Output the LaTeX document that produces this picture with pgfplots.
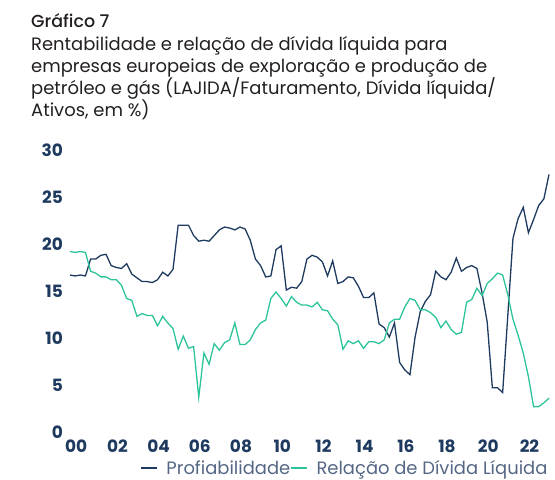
\documentclass[border=0pt]{standalone}
\usepackage{fontspec}
\setmainfont{Poppins}
\newfontfamily\titlefont{Poppins Medium}
\usepackage{pgfplots}
\pgfplotsset{compat=1.18}
\definecolor{navy}{HTML}{1E3A5F}
\definecolor{teal}{HTML}{2EC49B}
\definecolor{titlecol}{HTML}{231F20}
\definecolor{legcol}{HTML}{556685}
\pgfplotstableread{
x prof rel
2000.00 16.7 19.2
2000.25 16.6 19.1
2000.50 16.7 19.2
2000.75 16.6 19.1
2001.00 18.4 17.1
2001.25 18.4 16.9
2001.50 18.8 16.5
2001.75 18.9 16.5
2002.00 17.7 16.2
2002.25 17.5 16.2
2002.50 17.4 15.6
2002.75 17.9 14.2
2003.00 16.8 14.0
2003.25 16.4 12.3
2003.50 16.0 12.6
2003.75 16.0 12.4
2004.00 15.9 12.4
2004.25 16.2 11.3
2004.50 17.0 12.3
2004.75 16.6 11.6
2005.00 17.3 11.0
2005.25 22.0 8.8
2005.50 22.0 10.2
2005.75 22.0 8.9
2006.00 20.9 9.1
2006.25 20.3 3.7
2006.50 20.4 8.4
2006.75 20.3 7.2
2007.00 20.9 9.4
2007.25 21.5 8.7
2007.50 21.8 9.5
2007.75 21.7 9.8
2008.00 21.5 11.6
2008.25 21.8 9.3
2008.50 21.6 9.3
2008.75 20.4 9.8
2009.00 18.4 10.9
2009.25 17.7 11.6
2009.50 16.5 11.9
2009.75 16.6 14.2
2010.00 19.4 14.9
2010.25 19.8 14.2
2010.50 15.1 13.4
2010.75 15.4 14.4
2011.00 15.3 13.8
2011.25 16.0 13.5
2011.50 18.4 13.5
2011.75 18.8 13.3
2012.00 18.6 13.8
2012.25 18.1 13.0
2012.50 16.6 12.9
2012.75 18.2 12.0
2013.00 15.8 11.4
2013.25 16.0 8.8
2013.50 16.5 9.7
2013.75 16.4 9.4
2014.00 15.5 9.7
2014.25 14.3 8.9
2014.50 14.3 9.6
2014.75 14.8 9.6
2015.00 11.5 9.4
2015.25 11.1 9.8
2015.50 10.1 11.6
2015.75 11.6 12.0
2016.00 7.4 12.0
2016.25 6.6 13.3
2016.50 6.1 14.2
2016.75 10.1 14.0
2017.00 12.8 13.0
2017.25 13.9 13.0
2017.50 14.6 12.7
2017.75 17.1 12.2
2018.00 16.5 11.1
2018.25 16.2 11.8
2018.50 17.0 10.9
2018.75 18.5 10.4
2019.00 17.1 10.6
2019.25 17.5 13.8
2019.50 17.7 14.1
2019.75 17.4 15.3
2020.00 14.8 14.5
2020.25 11.7 15.8
2020.50 4.7 16.3
2020.75 4.7 16.9
2021.00 4.2 16.7
2021.25 12.4 14.6
2021.50 20.6 12.0
2021.75 22.7 10.3
2022.00 23.9 8.4
2022.25 21.2 5.9
2022.50 22.6 2.7
2022.75 24.1 2.7
2023.00 24.8 3.1
2023.25 27.4 3.6
}\datatable
\begin{document}
\begin{tikzpicture}[x=1bp,y=1bp]
\path[use as bounding box] (0,0) rectangle (555,480);
\node[anchor=base west, inner sep=0pt, text=titlecol, font=\titlefont\fontsize{17.5}{20}\selectfont] at (31,452) {Gráfico 7};
\begin{scope}[every node/.style={anchor=base west, inner sep=0pt, text=titlecol, font=\fontsize{18}{21}\selectfont}]
\node at (31,429.5) {Rentabilidade e relação de dívida líquida para};
\node at (31,407.5) {empresas europeias de exploração e produção de};
\node at (31,385.5) {petróleo e gás (LAJIDA/Faturamento, Dívida líquida/};
\node at (31,363.5) {Ativos, em \%)};
\end{scope}
\begin{axis}[
  at={(70bp,48bp)}, anchor=south west,
  scale only axis, width=479bp, height=282bp,
  xmin=2000, xmax=2023.25, ymin=0, ymax=30,
  axis x line*=bottom, axis y line*=left,
  axis line style={draw=none},
  major tick length=0pt,
  xtick={2000.3,2002.3,2004.3,2006.3,2008.3,2010.3,2012.3,2014.3,2016.3,2018.3,2020.3,2022.3},
  xticklabels={00,02,04,06,08,10,12,14,16,18,20,22},
  ytick={0,5,...,30},
  /pgf/number format/assume math mode=true,
  ticklabel style={font=\bfseries\fontsize{17}{20}\selectfont, text=navy, inner sep=0pt},
  yticklabel style={anchor=east, xshift=-7bp},
  xticklabel style={anchor=north, yshift=-8bp},
  clip=false,
  legend columns=2,
  legend style={at={(0.146,-0.128)}, anchor=west, draw=none, fill=none,
    font=\fontsize{18}{21}\selectfont, text=legcol, inner sep=0pt,
    nodes={inner sep=0pt},
    /tikz/every odd column/.append style={column sep=9bp},
    /tikz/every even column/.append style={column sep=0pt}},
  legend cell align=left,
  legend image code/.code={\draw[#1] (0bp,0bp) -- (16bp,0bp);},
]
\addplot[navy, line width=1.3bp] table[x=x, y=prof] {\datatable};
\addlegendentry{Profiabilidade}
\addplot[teal, line width=1.3bp] table[x=x, y=rel] {\datatable};
\addlegendentry{Relação de Dívida Líquida}
\end{axis}
\end{tikzpicture}
\end{document}
